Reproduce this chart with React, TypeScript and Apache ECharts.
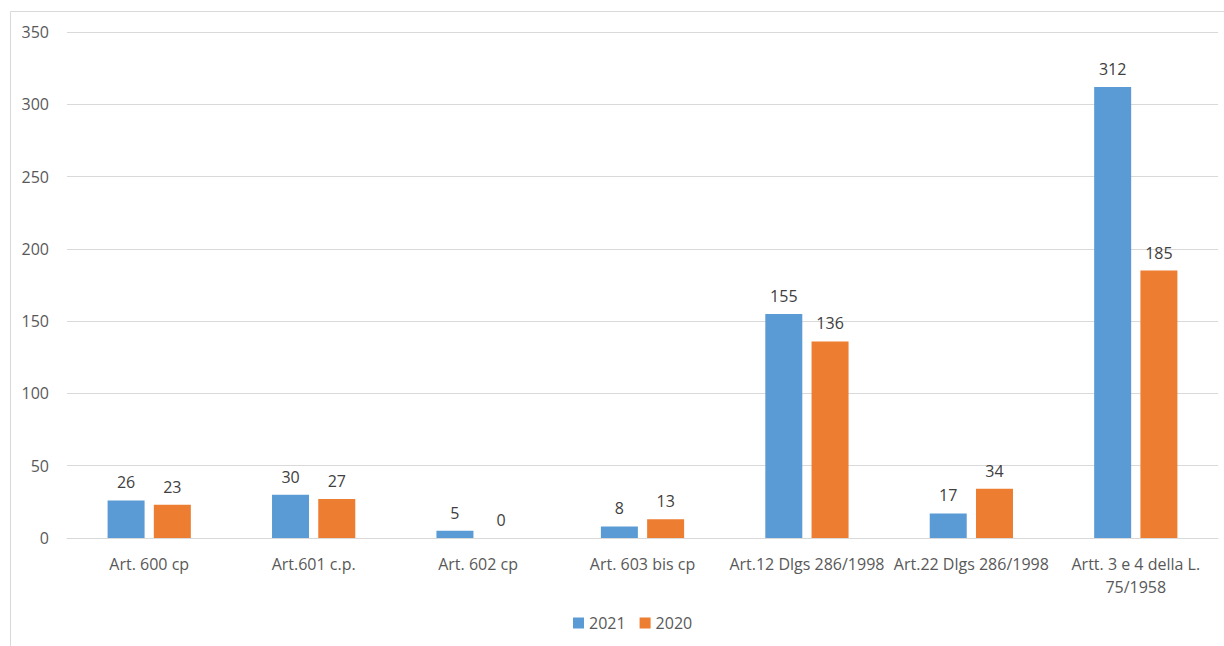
import React, { useEffect, useRef } from "react";
import * as echarts from "echarts";

const categories = [
  "Art. 600 cp",
  "Art.601 c.p.",
  "Art. 602 cp",
  "Art. 603 bis cp",
  "Art.12 Dlgs 286/1998",
  "Art.22 Dlgs 286/1998",
  "Artt. 3 e 4 della L.\n75/1958",
];
const values2021 = [26, 30, 5, 8, 155, 17, 312];
const values2020 = [23, 27, 0, 13, 136, 34, 185];
const seriesNames = ["2021", "2020"];

const FONT = "'Open Sans', 'Noto Sans', sans-serif";

export default function App() {
  const ref = useRef<HTMLDivElement>(null);
  useEffect(() => {
    if (!ref.current) return;
    const chart = echarts.init(ref.current, undefined, { renderer: "svg" });
    const labelStyle = {
      show: true,
      position: "top" as const,
      distance: 10,
      color: "#404040",
      fontSize: 16,
      fontFamily: FONT,
    };
    chart.setOption({
      animation: false,
      backgroundColor: "#ffffff",
      textStyle: { fontFamily: FONT },
      graphic: [
        {
          type: "rect",
          shape: { x: 10.5, y: 11.5, width: 1230, height: 660 },
          style: { fill: "none", stroke: "#d9d9d9", lineWidth: 1 },
          silent: true,
        },
      ],
      grid: { left: 67, right: 6, top: 32, bottom: 108, containLabel: false },
      legend: {
        bottom: 10,
        left: 568,
        itemWidth: 11,
        itemHeight: 11,
        itemGap: 14,
        icon: "rect",
        textStyle: { color: "#595959", fontSize: 16, fontFamily: FONT },
        data: seriesNames,
      },
      xAxis: {
        type: "category",
        data: categories,
        axisLine: { show: true, lineStyle: { color: "#d9d9d9", width: 1 } },
        axisTick: { show: false },
        axisLabel: {
          color: "#595959",
          fontSize: 16,
          fontFamily: FONT,
          margin: 14,
          lineHeight: 23,
          interval: 0,
        },
      },
      yAxis: {
        type: "value",
        min: 0,
        max: 350,
        interval: 50,
        axisLine: { show: false },
        axisTick: { show: false },
        splitLine: { lineStyle: { color: "#d9d9d9", width: 1 } },
        axisLabel: { color: "#595959", fontSize: 16, fontFamily: FONT, margin: 18 },
      },
      series: [
        {
          name: seriesNames[0],
          type: "bar",
          data: values2021,
          barWidth: 37,
          barGap: "25%",
          itemStyle: { color: "#5B9BD5" },
          label: labelStyle,
        },
        {
          name: seriesNames[1],
          type: "bar",
          data: values2020,
          barWidth: 37,
          barGap: "25%",
          itemStyle: { color: "#ED7D31" },
          label: labelStyle,
        },
      ],
    });
    return () => chart.dispose();
  }, []);
  return (
    <div
      ref={ref}
      style={{ position: "absolute", left: 0, top: 0, width: 1224, height: 646 }}
    />
  );
}
